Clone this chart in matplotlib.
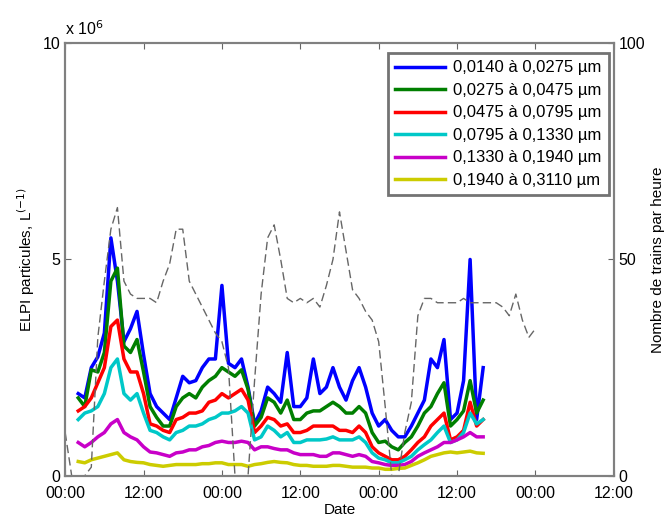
import matplotlib.pyplot as plt
import numpy as np

plt.rcParams['font.family'] = ['Liberation Sans', 'DejaVu Sans']

# hours since the first midnight, one sample per hour (h2 .. h64)
hours = np.arange(2, 65)

# ELPI concentrations, units of 10^6 particles per litre
blue = [1.9, 1.8, 2.5, 2.75, 3.3, 5.5, 4.5, 3.1, 3.4, 3.8, 2.8,
        1.9, 1.6, 1.45, 1.3, 1.8, 2.3, 2.15, 2.2, 2.5, 2.7,
        2.7, 4.4, 2.6, 2.5, 2.7, 2.05, 1.2, 1.5, 2.05, 1.9,
        1.7, 2.85, 1.6, 1.6, 1.8, 2.7, 1.9, 2.05, 2.5, 2.05,
        1.75, 2.2, 2.5, 2.05, 1.45, 1.15, 1.3, 1.05, 0.9, 0.9,
        1.15, 1.45, 1.75, 2.7, 2.5, 3.15, 1.3, 1.45, 2.2, 5.0, 1.3, 2.5]
green = [1.8, 1.6, 2.45, 2.4, 2.85, 4.5, 4.8, 3.0, 2.85, 3.15, 2.4,
         1.6, 1.35, 1.15, 1.15, 1.6, 1.8, 1.9, 1.8, 2.05, 2.2,
         2.3, 2.5, 2.4, 2.3, 2.45, 2.0, 1.15, 1.35, 1.8, 1.7,
         1.45, 1.75, 1.3, 1.3, 1.45, 1.5, 1.5, 1.6, 1.7, 1.6,
         1.45, 1.45, 1.6, 1.45, 1.0, 0.77, 0.8, 0.67, 0.6, 0.77,
         0.9, 1.15, 1.45, 1.6, 1.9, 2.15, 1.15, 1.3, 1.5, 2.2, 1.45, 1.75]
red = [1.5, 1.6, 1.8, 2.15, 2.5, 3.45, 3.6, 2.7, 2.4, 2.4, 1.9,
       1.2, 1.15, 1.05, 1.0, 1.3, 1.35, 1.45, 1.45, 1.5, 1.7,
       1.75, 1.9, 1.8, 1.9, 2.0, 1.75, 1.0, 1.15, 1.35, 1.3,
       1.15, 1.2, 1.0, 1.0, 1.05, 1.15, 1.15, 1.15, 1.15, 1.05,
       1.05, 1.0, 1.15, 1.0, 0.67, 0.53, 0.45, 0.37, 0.37, 0.45,
       0.6, 0.77, 0.9, 1.15, 1.3, 1.45, 0.83, 0.9, 1.05, 1.7, 1.15, 1.3]
cyan = [1.3, 1.45, 1.5, 1.6, 1.9, 2.5, 2.7, 1.9, 1.75, 1.9, 1.45,
        1.05, 1.0, 0.9, 0.83, 1.0, 1.05, 1.15, 1.15, 1.2, 1.3,
        1.35, 1.45, 1.45, 1.5, 1.6, 1.45, 0.83, 0.9, 1.15, 1.05,
        0.9, 1.0, 0.77, 0.77, 0.83, 0.83, 0.83, 0.85, 0.9, 0.83,
        0.83, 0.83, 0.9, 0.77, 0.53, 0.41, 0.37, 0.3, 0.3, 0.37,
        0.45, 0.6, 0.72, 0.83, 1.0, 1.15, 0.77, 0.83, 1.0, 1.45, 1.2, 1.3]
magenta = [0.77, 0.67, 0.77, 0.9, 1.0, 1.2, 1.3, 1.0, 0.9, 0.83, 0.67,
           0.55, 0.53, 0.49, 0.45, 0.53, 0.55, 0.6, 0.6, 0.67, 0.7,
           0.77, 0.8, 0.77, 0.77, 0.8, 0.77, 0.6, 0.67, 0.67, 0.63,
           0.6, 0.6, 0.53, 0.49, 0.49, 0.49, 0.45, 0.45, 0.53, 0.53,
           0.49, 0.45, 0.49, 0.45, 0.33, 0.3, 0.26, 0.24, 0.24, 0.26,
           0.33, 0.45, 0.53, 0.6, 0.67, 0.77, 0.77, 0.83, 0.9, 1.0, 0.9, 0.9]
yellow = [0.33, 0.3, 0.37, 0.41, 0.45, 0.49, 0.53, 0.37, 0.33, 0.31, 0.3,
          0.26, 0.24, 0.22, 0.24, 0.26, 0.26, 0.26, 0.26, 0.28, 0.28,
          0.3, 0.3, 0.26, 0.26, 0.26, 0.22, 0.26, 0.28, 0.31, 0.33,
          0.31, 0.3, 0.26, 0.24, 0.24, 0.22, 0.22, 0.22, 0.24, 0.24,
          0.22, 0.2, 0.2, 0.2, 0.18, 0.18, 0.15, 0.15, 0.17, 0.18,
          0.24, 0.3, 0.37, 0.45, 0.49, 0.53, 0.55, 0.53, 0.55, 0.57, 0.53, 0.52]

size_labels = ['0,0140 à 0,0275 µm', '0,0275 à 0,0475 µm', '0,0475 à 0,0795 µm',
               '0,0795 à 0,1330 µm', '0,1330 à 0,1940 µm', '0,1940 à 0,3110 µm']
series_colors = ['#0000ff', '#007f00', '#ff0000', '#00c8c8', '#c800c8', '#cccc00']

# trains per hour, hourly from h0 to h72
train_hours = np.arange(0, 73)
trains = [10, 0, 0, 0, 2, 32, 45, 57, 62, 45, 42, 41, 41, 41, 40, 45, 49, 57, 57,
          45, 42, 39, 36, 33, 31, 25, 0, 0, 0, 22, 42, 55, 58, 50, 41, 40, 41,
          40, 41, 39, 44, 50, 61, 52, 43, 41, 38, 36, 31, 16, 0, 0, 10, 17, 37,
          41, 41, 40, 40, 40, 40, 41, 40, 40, 40, 40, 40, 39, 37, 42, 36, 32, 34]

xtick_pos = np.arange(0, 85, 12)
xtick_labels = ['00:00', '12:00'] * 4

fig = plt.figure(figsize=(6.65, 5.2), dpi=100)
ax = fig.add_axes([0.098, 0.085, 0.825, 0.832])

for vals, col, lab in zip([blue, green, red, cyan, magenta, yellow], series_colors, size_labels):
    ax.plot(hours, vals, color=col, lw=2.5, label=lab)

ax.set_xlim(0, 84)
ax.set_ylim(0, 10)
ax.set_xticks(xtick_pos)
ax.set_xticklabels(xtick_labels)
ax.set_yticks([0, 5, 10])
ax.tick_params(direction='in', labelsize=11.5, top=True, length=4, color='0.4')
ax.tick_params(axis='x', pad=7)
ax.set_xlabel('Date', fontsize=11, labelpad=2)
ax.set_ylabel('ELPI particules, L$^{(-1)}$', fontsize=11)
ax.text(0.0, 1.012, r'x 10$^{6}$', transform=ax.transAxes, ha='left', va='bottom', fontsize=11.5)
for sp in ax.spines.values():
    sp.set_color('0.5')
    sp.set_linewidth(1.5)

leg = ax.legend(loc='upper right', fontsize=12, handlelength=3.0, handletextpad=0.45,
                labelspacing=0.45, borderpad=0.45, fancybox=False, framealpha=1,
                borderaxespad=0.2, bbox_to_anchor=(0.997, 0.985))
leg.get_frame().set_edgecolor('0.45')
leg.get_frame().set_linewidth(2)

ax2 = ax.twinx()
ax2.plot(train_hours, trains, color='0.4', lw=1.0, ls=(0, (6, 3)))
ax2.set_ylim(0, 100)
ax2.set_yticks([0, 50, 100])
ax2.tick_params(direction='in', labelsize=11.5, length=4, color='0.4')
ax2.set_ylabel('Nombre de trains par heure', fontsize=11)
for sp in ax2.spines.values():
    sp.set_color('0.5')
    sp.set_linewidth(1.5)

fig.savefig('out.png', dpi=100)
